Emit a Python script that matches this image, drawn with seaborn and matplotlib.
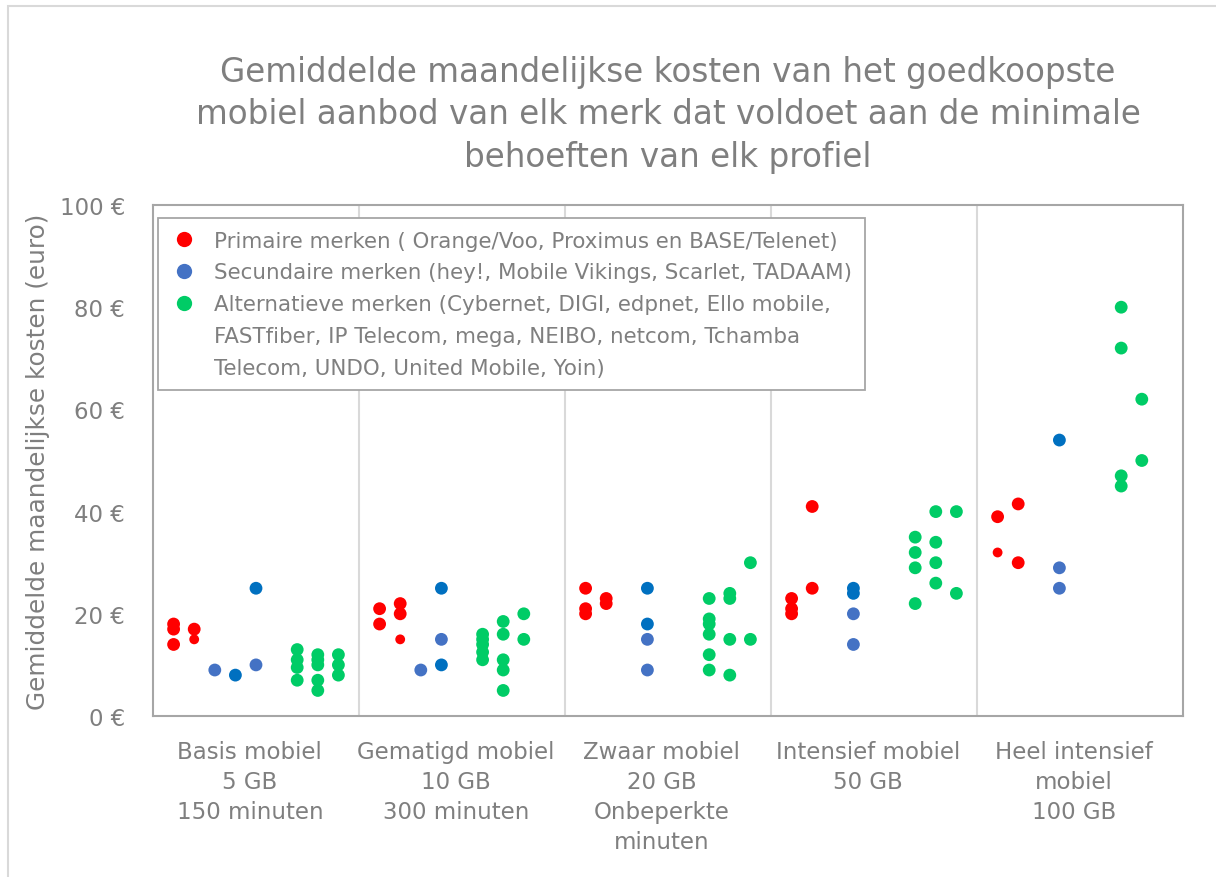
import matplotlib
matplotlib.use("Agg")
import matplotlib.pyplot as plt
import seaborn as sns
import pandas as pd
from matplotlib.lines import Line2D
from matplotlib.patches import Rectangle

# ---------------- data ----------------
categories = [
    "Basis mobiel\n5 GB\n150 minuten",
    "Gematigd mobiel\n10 GB\n300 minuten",
    "Zwaar mobiel\n20 GB\nOnbeperkte\nminuten",
    "Intensief mobiel\n50 GB",
    "Heel intensief\nmobiel\n100 GB",
]
y_ticks = [0, 20, 40, 60, 80, 100]
y_tick_labels = ["0 €", "20 €", "40 €", "60 €", "80 €", "100 €"]

title = ("Gemiddelde maandelijkse kosten van het goedkoopste\n"
         "mobiel aanbod van elk merk dat voldoet aan de minimale\n"
         "behoeften van elk profiel")
y_label = "Gemiddelde maandelijkse kosten (euro)"
legend_labels = [
    "Primaire merken ( Orange/Voo, Proximus en BASE/Telenet)",
    "Secundaire merken (hey!, Mobile Vikings, Scarlet, TADAAM)",
    "Alternatieve merken (Cybernet, DIGI, edpnet, Ello mobile,\n"
    "FASTfiber, IP Telecom, mega, NEIBO, netcom, Tchamba\n"
    "Telecom, UNDO, United Mobile, Yoin)",
]

# category index (1..5), brand slot inside the category (-4..4), cost in euro
primaire_cat = [1, 1, 1, 1, 2, 2, 2, 2, 3, 3, 3, 3, 3, 4, 4, 4, 4, 4, 5, 5, 5]
primaire_slot = [-4, -4, -4, -3, -4, -4, -3, -3, -4, -4, -4, -3, -3,
                 -4, -4, -4, -3, -3, -4, -3, -3]
primaire_cost = [18, 17, 14, 17, 21, 18, 22, 20, 25, 21, 20, 23, 22,
                 23, 21, 20, 41, 25, 39, 41.5, 30]

primaire_b_cat = [1, 2, 5]
primaire_b_slot = [-3, -3, -4]
primaire_b_cost = [15, 15, 32]

secundaire_cat = [1, 1, 2, 2, 3, 3, 4, 4, 5, 5]
secundaire_slot = [-2, 0, -2, -1, -1, -1, -1, -1, -1, -1]
secundaire_cost = [9, 10, 9, 15, 15, 9, 20, 14, 29, 25]

secundaire_b_cat = [1, 1, 2, 2, 3, 3, 4, 4, 5]
secundaire_b_slot = [-1, 0, -1, -1, -1, -1, -1, -1, -1]
secundaire_b_cost = [8, 25, 25, 10, 25, 18, 25, 24, 54]

alternatief_cat = ([1] * 12 + [2] * 12 + [3] * 12 + [4] * 10 + [5] * 6)
alternatief_slot = ([2, 2, 2, 2, 3, 3, 3, 3, 3, 4, 4, 4]
                    + [1, 1, 1, 1, 1, 2, 2, 2, 2, 2, 3, 3]
                    + [2, 2, 2, 2, 2, 2, 3, 3, 3, 3, 4, 4]
                    + [2, 2, 2, 2, 3, 3, 3, 3, 4, 4]
                    + [2, 2, 2, 2, 3, 3])
alternatief_cost = ([13, 11, 9.5, 7, 12, 11, 10, 7, 5, 12, 10, 8]
                    + [16, 15, 14, 12.5, 11, 18.5, 16, 11, 9, 5, 20, 15]
                    + [23, 19, 18, 16, 12, 9, 24, 23, 15, 8, 30, 15]
                    + [35, 32, 29, 22, 40, 34, 30, 26, 40, 24]
                    + [80, 72, 47, 45, 62, 50])

# ---------------- build table ----------------
def frame(cat, slot, cost, group):
    return pd.DataFrame({"cat": cat, "slot": slot, "kost": cost, "groep": group})

df = pd.concat([
    frame(primaire_cat, primaire_slot, primaire_cost, "prim"),
    frame(primaire_b_cat, primaire_b_slot, primaire_b_cost, "prim_b"),
    frame(secundaire_cat, secundaire_slot, secundaire_cost, "sec"),
    frame(secundaire_b_cat, secundaire_b_slot, secundaire_b_cost, "sec_b"),
    frame(alternatief_cat, alternatief_slot, alternatief_cost, "alt"),
], ignore_index=True)
df["x"] = df["cat"] + df["slot"] / 10.0

RED = "#FF0000"
BLUE = "#4472C4"
DBLUE = "#0070C0"
GREEN = "#00CC66"
GREY = "#7F7F7F"
palette = {"prim": RED, "prim_b": RED, "sec": BLUE, "sec_b": DBLUE, "alt": GREEN}
sizes = {"prim": 85, "prim_b": 50, "sec": 85, "sec_b": 85, "alt": 85}

# ---------------- plot ----------------
sns.set_theme(style="white")
plt.rcParams["font.family"] = ["DejaVu Sans"]

fig = plt.figure(figsize=(12.16, 8.78), dpi=100)
ax = fig.add_axes([153 / 1216, 1 - 717 / 878, 1030 / 1216, 511 / 878])

for xv in [1.5, 2.5, 3.5, 4.5]:
    ax.axvline(xv, color="#D9D9D9", lw=1.5, zorder=0)

sns.scatterplot(data=df, x="x", y="kost", hue="groep", palette=palette,
                size="groep", sizes=sizes, linewidth=0, legend=False,
                ax=ax, zorder=3)

ax.set_xlim(0.5, 5.5)
ax.set_ylim(0, 100)
ax.set_xticks([i - 0.03 for i in range(1, len(categories) + 1)])
ax.set_xticklabels(categories, fontsize=16.5, color=GREY, linespacing=1.4)
ax.set_yticks(y_ticks)
ax.set_yticklabels(y_tick_labels, fontsize=16.5, color=GREY)
ax.tick_params(axis="both", length=0)
ax.tick_params(axis="y", pad=20)
ax.tick_params(axis="x", pad=17)
ax.set_xlabel("")
ax.set_ylabel("")
for s in ax.spines.values():
    s.set_color("#A6A6A6")
    s.set_linewidth(1.5)

ax.text(-0.112, 0.5, y_label, transform=ax.transAxes, rotation=90,
        ha="center", va="center", fontsize=17.8, color=GREY)

fig.text(668 / 1216, 1 - 115 / 878, title, ha="center", va="center",
         fontsize=23.5, color=GREY, linespacing=1.37)

# legend: one row per text line, marker on the first line of each entry
handles, texts = [], []
for c, lab in zip((RED, BLUE, GREEN), legend_labels):
    for i, line in enumerate(lab.split("\n")):
        handles.append(Line2D([], [], marker="o", ls="", markersize=11,
                              markeredgewidth=0, color=c if i == 0 else "none"))
        texts.append(line)
leg = ax.legend(handles, texts, loc="upper left",
                bbox_to_anchor=(0.005, 0.975), borderaxespad=0,
                fontsize=15.4, frameon=True, fancybox=False,
                edgecolor="#A6A6A6", framealpha=1, handletextpad=0.8,
                labelspacing=0.55, borderpad=0.6, handlelength=1.2)
leg.get_frame().set_linewidth(1.3)
for t in leg.get_texts():
    t.set_color(GREY)

fig.add_artist(Rectangle((8 / 1216, -0.1), 1.2, 1.1 - 7 / 878,
                         transform=fig.transFigure, fill=False,
                         edgecolor="#D9D9D9", lw=1.5))

fig.savefig("out.png", dpi=100)
